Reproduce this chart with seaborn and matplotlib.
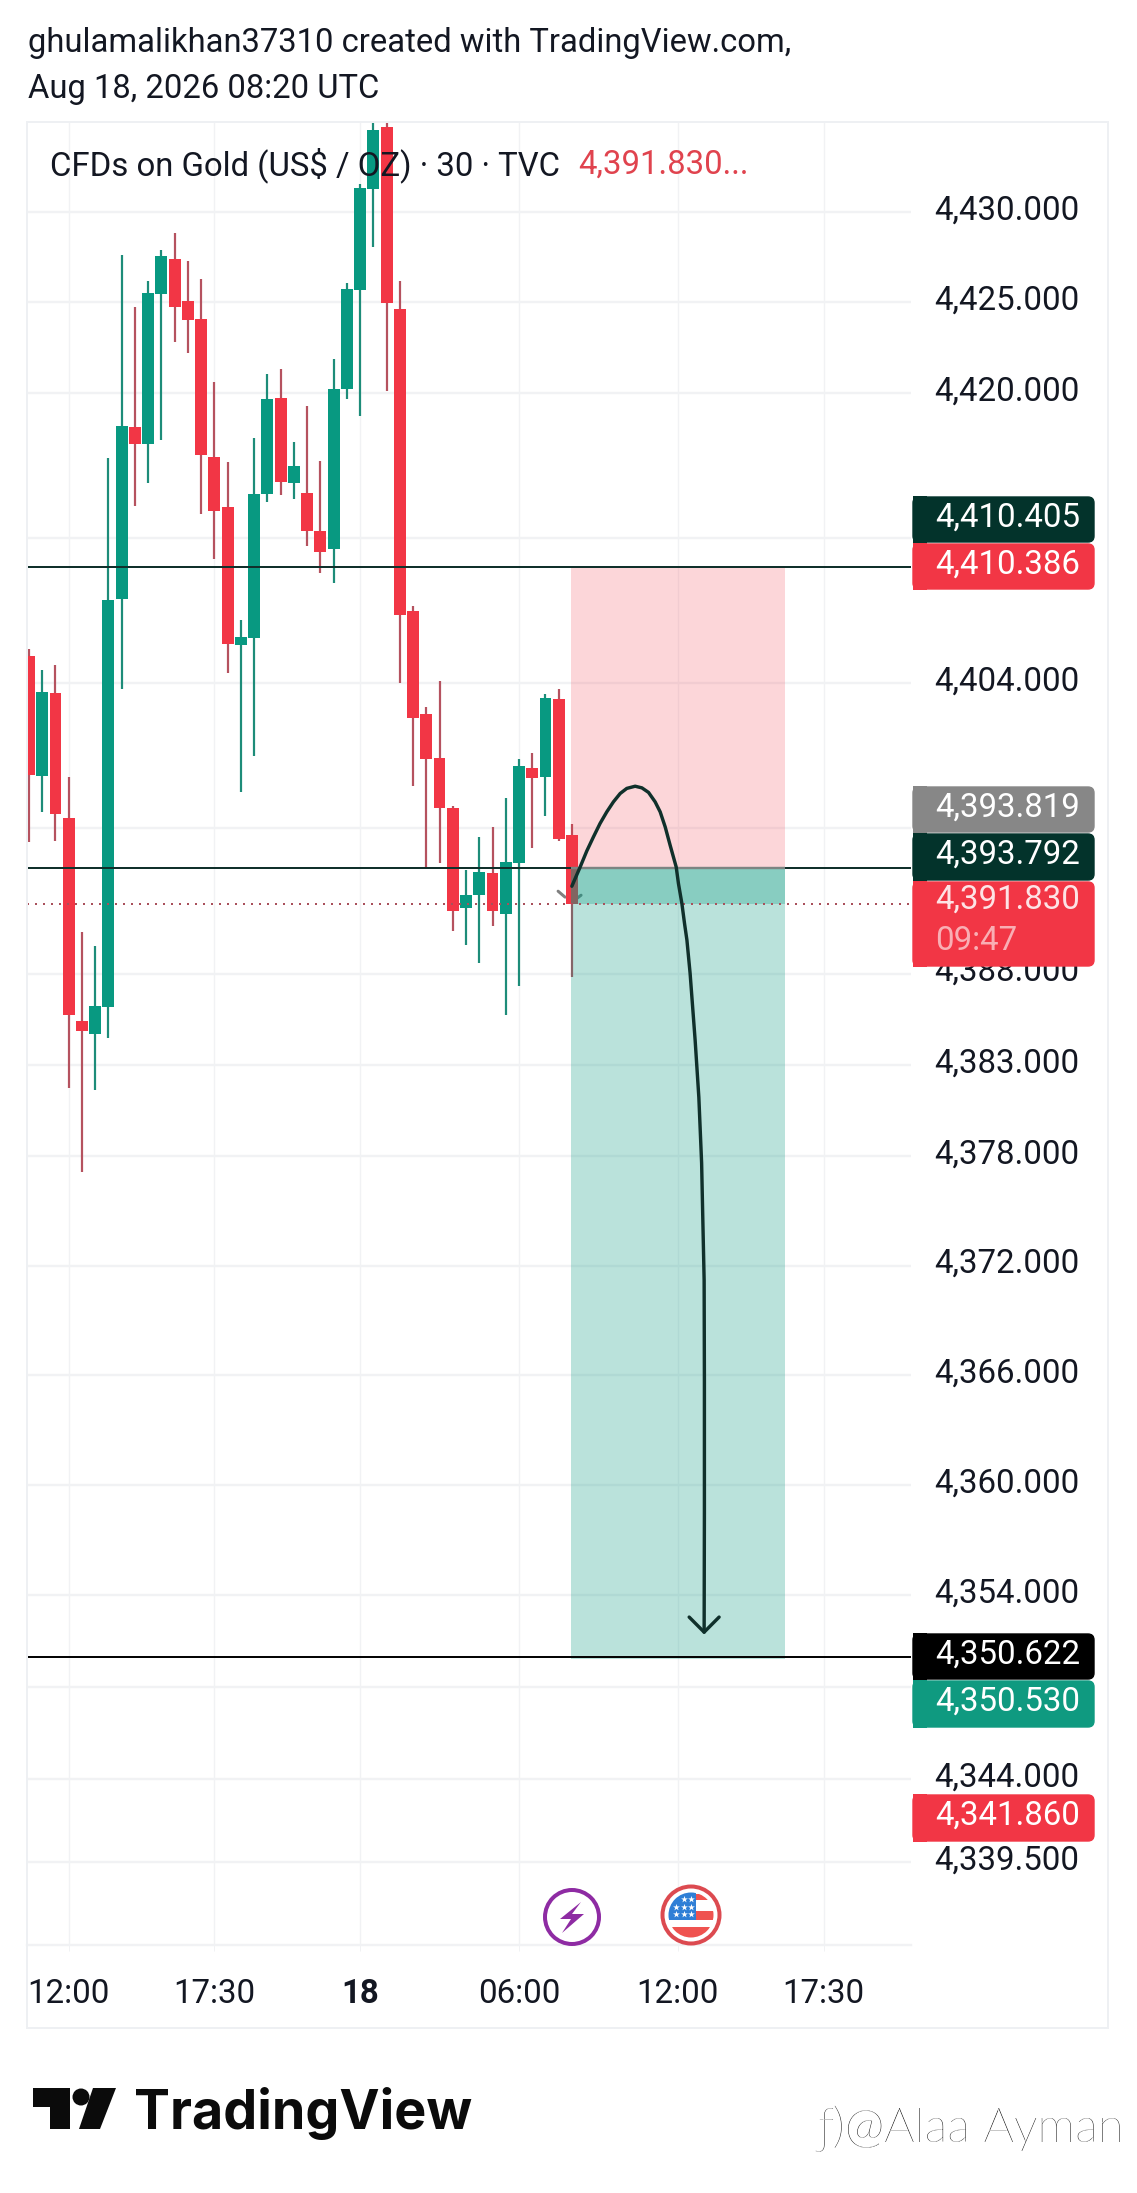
"""Gold CFD 30 minute chart with a short position drawn on it, TradingView style."""
from __future__ import annotations

import matplotlib

matplotlib.use("Agg")
import matplotlib.pyplot as plt
import numpy as np
import pandas as pd
import seaborn as sns
from matplotlib.patches import Circle, FancyBboxPatch, Polygon, Rectangle
from matplotlib.ticker import NullLocator
from matplotlib.transforms import ScaledTranslation

W, H = 1137, 2193

# candles
opens = [4405.49, 4398.85, 4403.42, 4396.54, 4385.39, 4384.68, 4386.16, 4408.60, 4418.10, 4417.16, 4425.46,
         4427.40, 4425.07, 4424.07, 4416.44, 4413.68, 4406.07, 4406.48, 4414.40, 4419.70, 4415.01, 4414.45,
         4412.36, 4411.36, 4420.20, 4425.68, 4431.27, 4434.71, 4424.63, 4407.94, 4402.27, 4399.84, 4397.09,
         4391.59, 4392.31, 4393.52, 4391.26, 4394.07, 4399.29, 4398.80, 4403.09, 4395.61]
highs = [4405.85, 4404.69, 4404.96, 4398.80, 4390.28, 4389.51, 4416.39, 4427.62, 4424.74, 4426.18, 4427.89,
         4428.84, 4427.29, 4426.29, 4420.59, 4416.17, 4407.45, 4417.49, 4421.03, 4421.31, 4417.27, 4419.26,
         4416.22, 4421.86, 4426.07, 4431.55, 4434.99, 4434.99, 4426.18, 4408.22, 4402.65, 4404.08, 4397.20,
         4393.68, 4395.50, 4396.05, 4397.64, 4399.79, 4400.12, 4403.37, 4403.64, 4396.21]
lows = [4395.22, 4396.87, 4395.28, 4381.72, 4377.11, 4381.61, 4384.46, 4403.64, 4413.74, 4415.01, 4417.38,
        4422.80, 4422.19, 4413.29, 4410.81, 4404.52, 4397.97, 4399.95, 4413.96, 4414.34, 4414.12, 4411.53,
        4410.04, 4409.49, 4419.65, 4418.71, 4428.06, 4420.09, 4403.97, 4398.30, 4393.79, 4394.07, 4390.33,
        4389.56, 4388.57, 4390.60, 4385.72, 4387.31, 4394.89, 4396.65, 4395.28, 4387.80]
closes = [4398.91, 4403.48, 4396.79, 4385.72, 4384.84, 4386.21, 4408.55, 4418.16, 4417.16, 4425.51, 4427.56,
          4424.74, 4424.02, 4416.55, 4413.46, 4406.12, 4406.51, 4414.40, 4419.65, 4415.06, 4415.95, 4412.36,
          4411.20, 4420.20, 4425.73, 4431.33, 4434.55, 4424.96, 4407.72, 4402.05, 4399.79, 4397.09, 4391.43,
          4392.31, 4393.57, 4391.43, 4394.12, 4399.40, 4398.74, 4403.15, 4395.39, 4391.83]

price_ticks = [4430, 4425, 4420, 4412, 4404, 4396, 4388, 4383, 4378, 4372, 4366, 4360, 4354, 4349, 4344, 4339.5]
hidden_ticks = [4412, 4396, 4349]
time_ticks = [3, 14, 25, 37, 49, 60]
time_labels = ["12:00", "17:30", "18", "06:00", "12:00", "17:30"]

level_stop = 4410.386
level_entry = 4393.792
level_target = 4350.622
level_zone_low = 4350.53
last_price = 4391.83
zone_left = 40.94
zone_right = 57.1

# the hand drawn arrow
curve_bar = [40.99, 41.62, 42.12, 42.62, 43.12, 43.63, 44.13, 44.64, 45.14, 45.77, 46.28, 46.78, 47.28, 47.66,
             48.04, 48.41, 48.87, 49.04, 49.30, 49.50, 49.68, 49.92, 50.30, 50.58, 50.79, 50.87, 50.98, 51.0,
             51.0, 50.98]
curve_price = [4392.80, 4393.86, 4394.74, 4395.51, 4396.25, 4396.89, 4397.44, 4397.90, 4398.18, 4398.30,
               4398.21, 4397.96, 4397.44, 4396.89, 4396.06, 4395.06, 4393.86, 4392.95, 4391.85, 4390.75,
               4389.84, 4388.02, 4384.35, 4381.22, 4377.61, 4374.87, 4371.20, 4365.74, 4358.48, 4352.00]
head_bar = [49.85, 50.98, 52.11]
head_price = [4352.82, 4352.00, 4352.82]
chevron_left_bar = [39.95, 40.48]
chevron_left_price = [4392.53, 4392.20]
chevron_right_bar = [41.39, 41.69]
chevron_right_price = [4392.14, 4392.31]

# price badges on the right: label, top, bottom, colour
badges = [
    ("4,410.405", 496, 543, "#03332b"),
    ("4,410.386", 543, 590, "#f23645"),
    ("4,393.819", 786, 833, "#878787"),
    ("4,393.792", 833, 881, "#03332b"),
    ("4,350.622", 1633, 1680, "#000000"),
    ("4,350.530", 1680, 1728, "#0f9a80"),
    ("4,341.860", 1794, 1842, "#f23645"),
]

UP = "#089981"
DOWN = "#f23645"
UP_WICK = "#1d8c79"
DOWN_WICK = "#b5525f"
GRID = "#f1f2f4"
INK = "#131722"
LINE = "#10302b"
FONT = "Roboto"
SIZE = 23.8


def px(n: float) -> float:
    return n * 0.72


def draw_candles(ax, df: pd.DataFrame) -> None:
    up = df["close"] >= df["open"]
    for mask, body, wick in ((up, UP, UP_WICK), (~up, DOWN, DOWN_WICK)):
        part = df[mask]
        ax.vlines(part["bar"], part["low"], part["high"], color=wick, lw=px(2.2), zorder=2, capstyle="butt")
        lo = part[["open", "close"]].min(axis=1)
        hi = part[["open", "close"]].max(axis=1)
        ax.bar(part["bar"], hi - lo, bottom=lo, width=0.9, color=body, lw=0, zorder=2.2)


def draw_badges(ov) -> None:
    for label, top, bottom, color in badges:
        ov.add_patch(FancyBboxPatch((913, top + 1), 181, bottom - top - 2, boxstyle="round,pad=0,rounding_size=6",
                                    fc=color, ec=color, lw=1))
        ov.add_patch(Rectangle((913, top), 14, bottom - top, fc=color, lw=0))
        ov.text(935, (top + bottom) / 2 - 2, label, color="white", fontsize=SIZE, va="center", family=FONT)
    ov.add_patch(FancyBboxPatch((913, 882), 181, 84, boxstyle="round,pad=0,rounding_size=6", fc=DOWN, ec=DOWN, lw=1))
    ov.add_patch(Rectangle((913, 881), 14, 86, fc=DOWN, lw=0))
    ov.text(935, 900, "4,391.830", color="#fde3e5", fontsize=SIZE, va="center", family=FONT)
    ov.text(935, 941, "09:47", color="#f9aeb4", fontsize=SIZE, va="center", family=FONT)


def draw_icons(ov) -> None:
    ov.add_patch(Circle((572, 1917), 27, fc="white", ec="#8e2ba3", lw=px(4)))
    bolt = [(581, 1902), (560, 1919), (571, 1919), (562, 1933), (584, 1914), (572, 1914)]
    ov.add_patch(Polygon(bolt, fc="#8e2ba3", lw=0))

    ov.add_patch(Circle((691, 1915), 28.5, fc="white", ec="#dc4a50", lw=px(4)))
    clip = Circle((691, 1915), 22.5, transform=ov.transData)
    parts = [
        Rectangle((696, 1894), 20, 6, fc="#ef5350", lw=0),
        Rectangle((696, 1911), 20, 9, fc="#ef5350", lw=0),
        Rectangle((665, 1927), 52, 12, fc="#ef5350", lw=0),
        Rectangle((665, 1892), 31, 28, fc="#2f7fd6", lw=0),
    ]
    for part in parts:
        ov.add_patch(part)
        part.set_clip_path(clip)
    star_x = [684, 691, 676, 684, 691, 676, 684, 691]
    star_y = [1899, 1899, 1907, 1907, 1907, 1914, 1914, 1914]
    ov.scatter(star_x, star_y, marker="*", s=26, color="white", lw=0, zorder=5)


def draw_logo(ov) -> None:
    ov.add_patch(Polygon([(33, 2088), (70, 2088), (70, 2129), (50, 2129), (50, 2107), (33, 2107)], fc="#0b0b0b", lw=0))
    ov.add_patch(Circle((81, 2097), 8.5, fc="#0b0b0b", lw=0))
    ov.add_patch(Polygon([(93, 2088), (116, 2088), (100, 2129), (79, 2129)], fc="#0b0b0b", lw=0))
    ov.text(134, 2129, "TradingView", color="#0b0b0b", fontsize=38.8, fontweight="bold", va="baseline", family="Inter")


def main() -> None:
    sns.set_theme(style="white")
    plt.rcParams["font.family"] = [FONT, "DejaVu Sans"]

    df = pd.DataFrame({"open": opens, "high": highs, "low": lows, "close": closes})
    df["bar"] = np.arange(len(df))

    fig = plt.figure(figsize=(W / 100, H / 100), dpi=100)
    ax = fig.add_axes([27 / W, 1 - 1945 / H, (911 - 27) / W, (1945 - 122) / H])
    ax.set_yscale("log")
    ax.set_ylim(4335, 4435)
    ax.set_xlim(-0.15, 66.6)

    draw_candles(ax, df)

    # position zones sit over the candles
    ax.fill_between([zone_left, zone_right], level_entry, level_stop, color=DOWN, alpha=0.2, lw=0, zorder=3)
    ax.fill_between([zone_left, zone_right], level_zone_low, level_entry, color=UP, alpha=0.28, lw=0, zorder=3)
    ax.fill_between([zone_left, zone_right], last_price, level_entry, color=UP, alpha=0.28, lw=0, zorder=3)

    ax.plot(chevron_left_bar, chevron_left_price, color="#808080", lw=px(3), zorder=1.5)
    ax.plot(chevron_right_bar, chevron_right_price, color="#808080", lw=px(3), zorder=1.5)
    ax.hlines([level_stop, level_entry], -0.15, 66.6, color=LINE, lw=px(2), zorder=4)
    ax.hlines(level_target, -0.15, 66.6, color="#050505", lw=px(2), zorder=4)
    ax.hlines(level_entry, zone_left, zone_right, color="#7d8482", lw=px(2.4), zorder=4.1)
    ax.hlines(last_price, -0.15, 66.6, color="#a9505b", lw=px(2), linestyle=(0, (1, 3)), zorder=4)

    sns.lineplot(x=curve_bar, y=curve_price, sort=False, estimator=None, color=LINE, linewidth=px(3.4), ax=ax, zorder=5)
    sns.lineplot(x=head_bar, y=head_price, sort=False, estimator=None, color=LINE, linewidth=px(3.4), ax=ax, zorder=5)

    ax.yaxis.tick_right()
    ax.yaxis.set_minor_locator(NullLocator())
    ax.set_yticks(price_ticks)
    ax.set_yticklabels(["" if t in hidden_ticks else f"{t:,.3f}" for t in price_ticks],
                       fontsize=SIZE, color=INK, family=FONT)
    ax.set_xticks(time_ticks)
    ax.set_xticklabels(time_labels, fontsize=SIZE, color=INK, family=FONT)
    ax.get_xticklabels()[2].set_fontweight("bold")
    ax.tick_params(axis="y", length=0, pad=17, right=True)
    ax.tick_params(axis="x", length=4, width=px(1), color=GRID, pad=20, bottom=True)
    # labels ride a little above their grid lines
    nudge = ScaledTranslation(0, 5 / 100, fig.dpi_scale_trans)
    for label in ax.get_yticklabels():
        label.set_transform(label.get_transform() + nudge)
    ax.set_axisbelow(True)
    ax.grid(True, axis="y", color=GRID, lw=px(2.4))
    ax.grid(True, axis="x", color=GRID, lw=px(1.4))
    for side in ("top", "left", "right"):
        ax.spines[side].set_visible(False)
    ax.spines["bottom"].set_color(GRID)
    ax.spines["bottom"].set_linewidth(px(2.4))

    # page furniture goes on a pixel sized overlay
    ov = fig.add_axes([0, 0, 1, 1], facecolor="none")
    ov.set_xlim(0, W)
    ov.set_ylim(H, 0)
    ov.axis("off")
    ov.add_patch(Rectangle((27, 122), 1081, 1906, fc="none", ec="#eef0f3", lw=px(2)))

    ov.text(28, 43, "ghulamalikhan37310 created with TradingView.com,", color=INK, fontsize=23.6, va="center", family=FONT)
    ov.text(28, 89, "Aug 18, 2026 08:20 UTC", color=INK, fontsize=23.6, va="center", family=FONT)
    ov.text(50, 165, "CFDs on Gold (US$ / OZ) · 30 · TVC", color=INK, fontsize=23.7, va="center", family=FONT)
    ov.text(578, 165, "4,391.830...", color="#e0434e", fontsize=23.7, va="center", family=FONT)

    draw_badges(ov)
    draw_icons(ov)
    draw_logo(ov)

    # embossed watermark
    mark = "ƒ)@Alaa Ayman"
    ov.text(818.5, 2141, mark, color="#222222", fontsize=34.5, fontweight="light", va="baseline", family="Lato")
    ov.text(817, 2141, mark, color="white", fontsize=34.5, fontweight="light", va="baseline", family="Lato")

    fig.savefig("out.png", dpi=100)
    plt.close(fig)


if __name__ == "__main__":
    main()
